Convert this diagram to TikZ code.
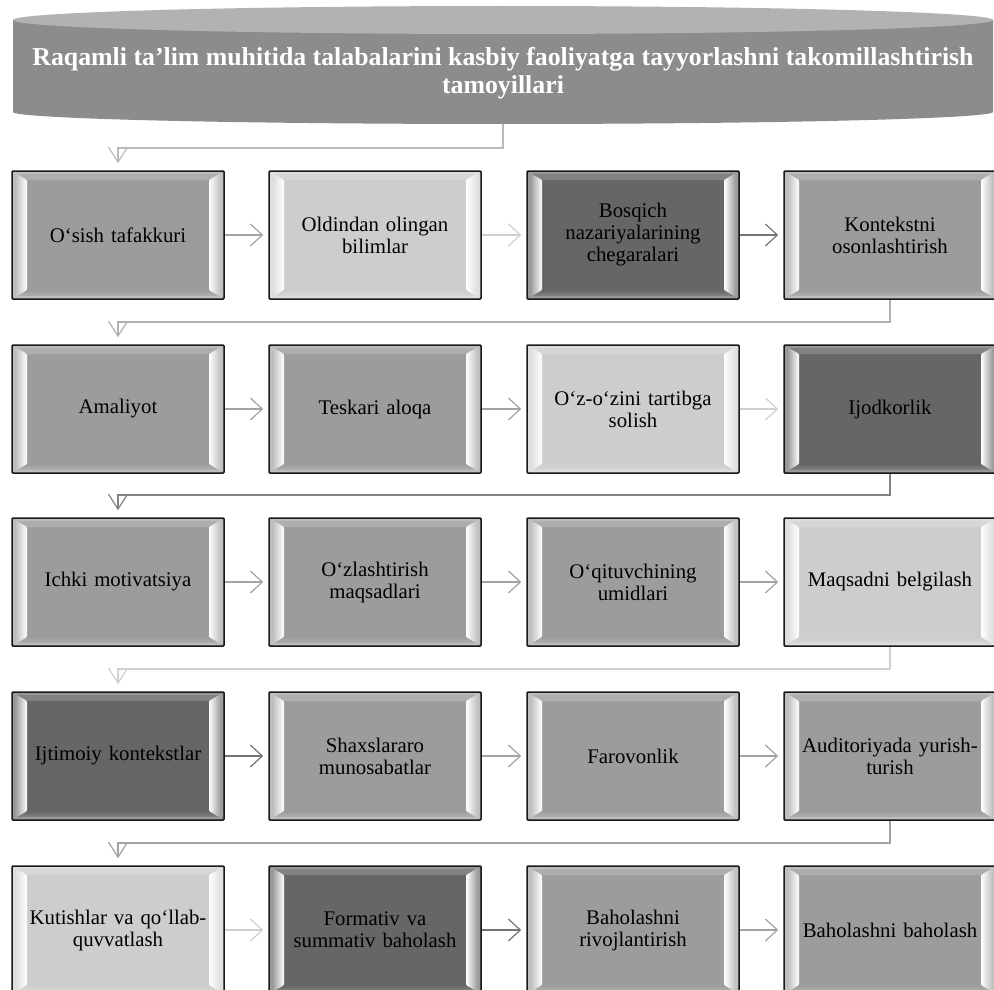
\documentclass[tikz,border=0pt]{standalone}
\usepackage{fontspec}
\setmainfont{Liberation Serif}
\usetikzlibrary{arrows.meta,calc}
\definecolor{cmid}{HTML}{9C9C9C}
\definecolor{clight}{HTML}{CDCDCD}
\definecolor{cdark}{HTML}{666666}
\definecolor{amid}{HTML}{A3A3A3}
\definecolor{alight}{HTML}{D0D0D0}
\definecolor{adark}{HTML}{747474}
\definecolor{hbody}{HTML}{8C8C8C}
\definecolor{htop}{HTML}{B2B2B2}
\tikzset{
  bevelbox/.style={draw=black!90, line width=1.5pt, rounded corners=1pt, fill=#1,
    minimum width=212pt, minimum height=128pt, inner sep=0pt, text width=188pt,
    align=center, font=\fontsize{20.8}{22}\selectfont, text=black,
    path picture={
      \path (path picture bounding box.north west) coordinate (pnw)
            (path picture bounding box.south east) coordinate (pse);
      \path (pnw -| pse) coordinate (pne) (pse -| pnw) coordinate (psw);
      \fill[#1!82!white] (pnw) -- (pne) -- ($(pne)+(-15pt,-9pt)$) -- ($(pnw)+(15pt,-9pt)$) -- cycle;
      \shade[top color=#1, bottom color=#1!70!white] (psw) -- (pse) -- ($(pse)+(-15pt,9pt)$) -- ($(psw)+(15pt,9pt)$) -- cycle;
      \shade[left color=#1!85!white, right color=white] (pnw) -- ($(pnw)+(15pt,-9pt)$) -- ($(psw)+(15pt,9pt)$) -- (psw) -- cycle;
      \shade[left color=white, right color=#1!85!white] (pne) -- ($(pne)+(-15pt,-9pt)$) -- ($(pse)+(-15pt,9pt)$) -- (pse) -- cycle;
      \draw[#1!60!white, line width=1.2pt] ($(pnw)+(2pt,-2pt)$) rectangle ($(pse)+(-2pt,2pt)$);
    }},
  harr/.style={line width=1.2pt, -{Straight Barb[length=12pt,width=22pt]}, shorten >=5pt},
  varr/.style={line width=1.2pt, -{Straight Barb[length=15pt,width=19pt]}, shorten >=7pt},
}
\begin{document}
\begin{tikzpicture}[x=1pt,y=-1pt]
\clip (0,0) rectangle (994,990);
\fill[white] (0,0) rectangle (994,990);
% header cylinder
\fill[hbody] (13,20) -- (13,112) arc[start angle=180,end angle=360,x radius=490pt,y radius=12pt] -- (993,20) -- cycle;
\fill[htop] (503,20) ellipse[x radius=490pt, y radius=14pt];
\node[minimum width=980pt, minimum height=104pt, inner sep=0pt] (hdr) at (503,72) {};
\node[text=white, align=center, font=\bfseries\fontsize{25.8}{28}\selectfont] (htxt) at (503,73)
  {Raqamli ta’lim muhitida talabalarini kasbiy faoliyatga tayyorlashni takomillashtirish\\tamoyillari};
% boxes
\node[bevelbox=cmid]   (b11) at (118,235) {O‘sish tafakkuri};
\node[bevelbox=clight] (b12) at (375,235) {Oldindan olingan\\bilimlar};
\node[bevelbox=cdark]  (b13) at (633,235) {Bosqich\\nazariyalarining\\chegaralari};
\node[bevelbox=cmid]   (b14) at (890,235) {Kontekstni\\osonlashtirish};
\node[bevelbox=cmid]   (b21) at (118,409) {Amaliyot};
\node[bevelbox=cmid]   (b22) at (375,409) {Teskari aloqa};
\node[bevelbox=clight] (b23) at (633,409) {O‘z-o‘zini tartibga\\solish};
\node[bevelbox=cdark]  (b24) at (890,409) {Ijodkorlik};
\node[bevelbox=cmid]   (b31) at (118,582) {Ichki motivatsiya};
\node[bevelbox=cmid]   (b32) at (375,582) {O‘zlashtirish\\maqsadlari};
\node[bevelbox=cmid]   (b33) at (633,582) {O‘qituvchining\\umidlari};
\node[bevelbox=clight] (b34) at (890,582) {Maqsadni belgilash};
\node[bevelbox=cdark]  (b41) at (118,756) {Ijtimoiy kontekstlar};
\node[bevelbox=cmid]   (b42) at (375,756) {Shaxslararo\\munosabatlar};
\node[bevelbox=cmid]   (b43) at (633,756) {Farovonlik};
\node[bevelbox=cmid]   (b44) at (890,756) {Auditoriyada yurish-\\turish};
\node[bevelbox=clight] (b51) at (118,930) {Kutishlar va qo‘llab-\\quvvatlash};
\node[bevelbox=cdark]  (b52) at (375,930) {Formativ va\\summativ baholash};
\node[bevelbox=cmid]   (b53) at (633,930) {Baholashni\\rivojlantirish};
\node[bevelbox=cmid]   (b54) at (890,930) {Baholashni baholash};
% junctions
\coordinate (j0) at (118,148);
\coordinate (j1) at (118,322);
\coordinate (j2) at (118,495);
\coordinate (j3) at (118,669);
\coordinate (j4) at (118,843);
% vertical connectors
\draw[varr, draw=htop!90!white] (hdr.south) |- (j0) -- (b11.north);
\draw[varr, draw=amid!85!white] (b14.south) |- (j1) -- (b21.north);
\draw[varr, draw=adark!90!white] (b24.south) |- (j2) -- (b31.north);
\draw[varr, draw=alight] (b34.south) |- (j3) -- (b41.north);
\draw[varr, draw=amid] (b44.south) |- (j4) -- (b51.north);
% horizontal arrows
\draw[harr, draw=amid] (b11) -- (b12);
\draw[harr, draw=alight] (b12) -- (b13);
\draw[harr, draw=adark] (b13) -- (b14);
\draw[harr, draw=amid] (b21) -- (b22);
\draw[harr, draw=amid] (b22) -- (b23);
\draw[harr, draw=alight] (b23) -- (b24);
\draw[harr, draw=amid] (b31) -- (b32);
\draw[harr, draw=amid] (b32) -- (b33);
\draw[harr, draw=amid] (b33) -- (b34);
\draw[harr, draw=adark] (b41) -- (b42);
\draw[harr, draw=amid] (b42) -- (b43);
\draw[harr, draw=amid] (b43) -- (b44);
\draw[harr, draw=alight] (b51) -- (b52);
\draw[harr, draw=adark] (b52) -- (b53);
\draw[harr, draw=amid] (b53) -- (b54);
\end{tikzpicture}
\end{document}
